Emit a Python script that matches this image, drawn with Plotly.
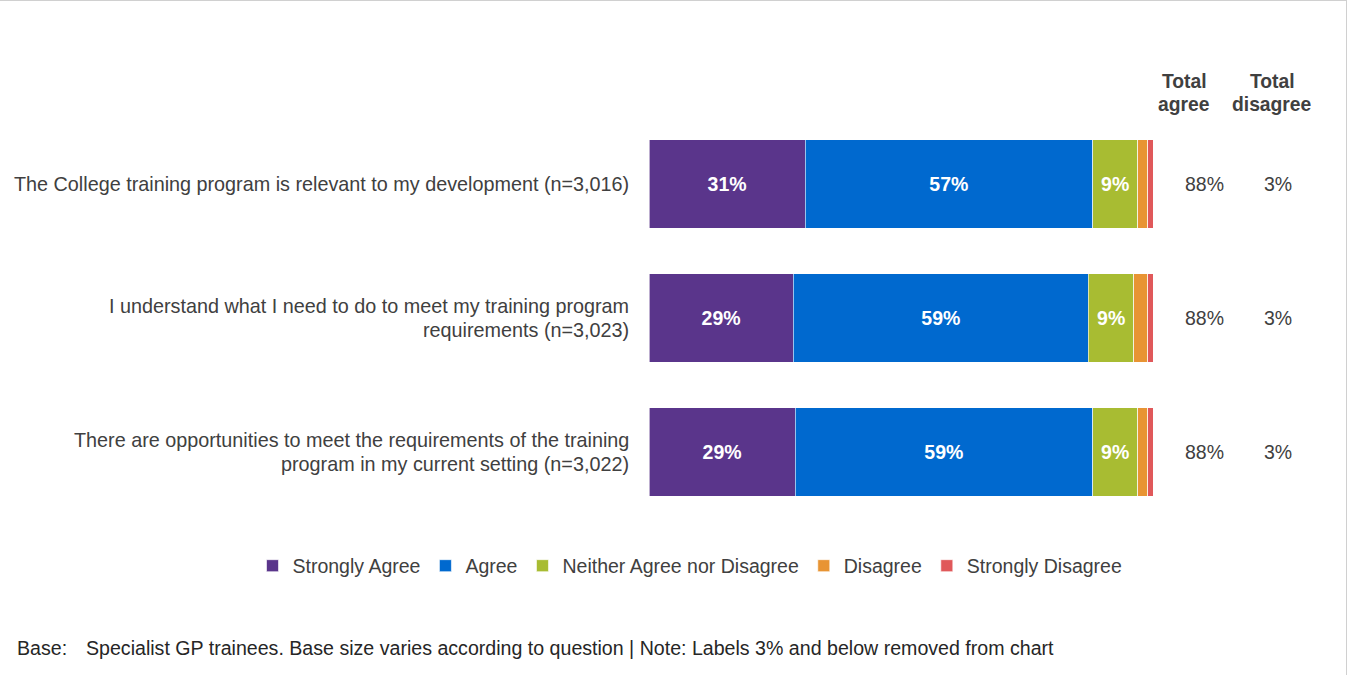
import plotly.graph_objects as go

categories = [
    "The College training program is relevant to my development (n=3,016)",
    "I understand what I need to do to meet my training program<br>requirements (n=3,023)",
    "There are opportunities to meet the requirements of the training<br>program in my current setting (n=3,022)",
]
series_names = ["Strongly Agree", "Agree", "Neither Agree nor Disagree", "Disagree", "Strongly Disagree"]
strongly_agree = [31, 28.6, 29]
agree = [57, 58.6, 59]
neither = [9, 9, 9]
disagree = [2, 2.8, 2]
strongly_disagree = [1, 1, 1]
total_agree = ["88%", "88%", "88%"]
total_disagree = ["3%", "3%", "3%"]
header_agree = ["Total", "agree"]
header_disagree = ["Total", "disagree"]

colors = ["#5A358B", "#0069CF", "#A8BC32", "#E89433", "#E0585A"]
values = [strongly_agree, agree, neither, disagree, strongly_disagree]

W, H = 1347, 675
FONT = "Liberation Sans, Arial, sans-serif"
TXT = "#404040"
LINE_GAP = 23.5

fig = go.Figure()
for name, vals, col in zip(series_names, values, colors):
    labels = [f"{round(v)}%" if v > 3.5 else "" for v in vals]
    fig.add_trace(go.Bar(
        y=list(range(len(categories))), x=vals, name=name, orientation="h",
        marker=dict(color=col, line=dict(color="rgba(255,255,255,0.6)", width=1)),
        text=labels, textposition="inside", insidetextanchor="middle",
        textfont=dict(family=FONT, size=19.5, color="white", weight="bold"),
        width=0.657, hoverinfo="skip",
    ))

x0, x1 = 649 / W, 1153 / W
ytop, ybot = 117, 519
fig.update_layout(
    width=W, height=H, barmode="stack",
    margin=dict(l=0, r=0, t=0, b=0),
    paper_bgcolor="white", plot_bgcolor="white",
    font=dict(family=FONT, color=TXT, size=20),
    xaxis=dict(domain=[x0, x1], range=[0, 100], visible=False, fixedrange=True),
    yaxis=dict(domain=[1 - ybot / H, 1 - ytop / H], range=[2.5, -0.5], visible=False, fixedrange=True),
    showlegend=True,
    legend=dict(orientation="h", x=690 / W, xanchor="center", y=1 - 566 / H, yanchor="middle",
                font=dict(family=FONT, size=19.5, color=TXT), traceorder="normal",
                itemwidth=30, bgcolor="rgba(0,0,0,0)"),
    uniformtext=dict(mode="show", minsize=8),
)


def multiline(x, y, lines, xref, yref, xanchor, size, bold=False):
    n = len(lines)
    for k, line in enumerate(lines):
        shift = ((n - 1) / 2 - k) * LINE_GAP
        fig.add_annotation(x=x, xref=xref, y=y, yref=yref, text=f"<b>{line}</b>" if bold else line,
                           showarrow=False, xanchor=xanchor, yanchor="middle", yshift=shift,
                           font=dict(size=size, color=TXT, family=FONT))


for i, cat in enumerate(categories):
    multiline(631 / W, i, cat.split("<br>"), "paper", "y", "right", 19.8)
    fig.add_annotation(x=1204 / W, xref="paper", y=i, yref="y", text=total_agree[i], showarrow=False,
                       xanchor="center", font=dict(size=19.5, color=TXT, family=FONT))
    fig.add_annotation(x=1278 / W, xref="paper", y=i, yref="y", text=total_disagree[i], showarrow=False,
                       xanchor="center", font=dict(size=19.5, color=TXT, family=FONT))

multiline(1184 / W, 1 - 93 / H, header_agree, "paper", "paper", "center", 19.3, bold=True)
multiline(1272 / W, 1 - 93 / H, header_disagree, "paper", "paper", "center", 19.3, bold=True)

fig.add_annotation(x=15 / W, xref="paper", y=1 - 648 / H, yref="paper", text="Base:",
                   showarrow=False, xanchor="left", yanchor="middle", font=dict(size=19.6, color="#262626", family=FONT))
fig.add_annotation(x=84 / W, xref="paper", y=1 - 648 / H, yref="paper",
                   text="Specialist GP trainees. Base size varies according to question | Note: Labels 3% and below removed from chart",
                   showarrow=False, xanchor="left", yanchor="middle", font=dict(size=19.6, color="#262626", family=FONT))

fig.add_shape(type="line", xref="paper", yref="paper", x0=0, x1=1, y0=1, y1=1,
              line=dict(color="#D0D0D0", width=2))
fig.add_shape(type="line", xref="paper", yref="paper", x0=1, x1=1, y0=0, y1=1,
              line=dict(color="#D0D0D0", width=2))

fig.write_html("out.html", config={"displayModeBar": False},
               post_script="document.body.style.margin='0';document.body.style.padding='0';")
